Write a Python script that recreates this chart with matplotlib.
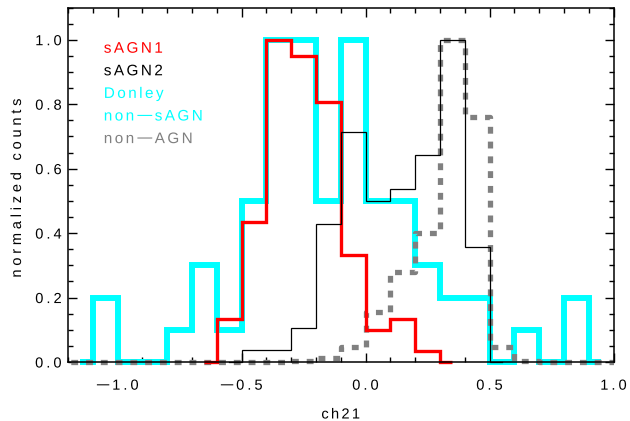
import numpy as np
import matplotlib
matplotlib.use("Agg")
import matplotlib.pyplot as plt
from matplotlib.patches import Rectangle
from matplotlib.ticker import MultipleLocator
from matplotlib.patheffects import AbstractPathEffect
from matplotlib.path import Path

plt.rcParams['font.family'] = ['Liberation Sans', 'DejaVu Sans']

# ---- data (bin centres, normalized counts) ----
sagn1_x = [-0.65, -0.55, -0.45, -0.35, -0.25, -0.15, -0.05, 0.05, 0.15, 0.25, 0.35]
sagn1_y = [0.0, 0.133, 0.433, 1.0, 0.95, 0.807, 0.333, 0.10, 0.133, 0.033, 0.0]

sagn2_x = [-0.55, -0.45, -0.35, -0.25, -0.15, -0.05, 0.05, 0.15, 0.25, 0.35, 0.45, 0.55]
sagn2_y = [0.0, 0.036, 0.036, 0.107, 0.429, 0.714, 0.50, 0.536, 0.643, 1.0, 0.357, 0.0]

donley_x = [-1.15, -1.05, -0.95, -0.85, -0.75, -0.65, -0.55, -0.45, -0.35, -0.25, -0.15,
            -0.05, 0.05, 0.15, 0.25, 0.35, 0.45, 0.55, 0.65, 0.75, 0.85, 0.95]
donley_y = [0.0, 0.2, 0.0, 0.0, 0.1, 0.3, 0.1, 0.5, 1.0, 1.0, 0.5,
            1.0, 0.5, 0.5, 0.3, 0.2, 0.2, 0.0, 0.1, 0.0, 0.2, 0.0]

nonagn_x = [-1.25, -1.15, -1.05, -0.95, -0.85, -0.75, -0.65, -0.55, -0.45, -0.35, -0.25, -0.15,
            -0.05, 0.05, 0.15, 0.25, 0.35, 0.45, 0.55, 0.65, 0.75, 0.85, 0.95, 1.05]
nonagn_y = [0.0, 0.0, 0.0, 0.0, 0.0, 0.0, 0.0, 0.0, 0.0, 0.0, 0.004, 0.011,
            0.048, 0.156, 0.28, 0.40, 1.0, 0.76, 0.048, 0.004, 0.0, 0.0, 0.0, 0.0]

legend_labels = ['sAGN1', 'sAGN2', 'Donley', 'non\u2212sAGN', 'non\u2212AGN']
legend_colors = ['#ff0000', '#000000', '#00ffff', '#00ffff', '#808080']

xticks = [-1.0, -0.5, 0.0, 0.5, 1.0]
xticklabels = ['\u22121.0', '\u22120.5', '0.0', '0.5', '1.0']
yticks = [0.0, 0.2, 0.4, 0.6, 0.8, 1.0]
yticklabels = ['0.0', '0.2', '0.4', '0.6', '0.8', '1.0']


class Tracked(AbstractPathEffect):
    """Draw a Text with extra letter spacing (IDL-like wide spacing)."""

    def __init__(self, text_obj, track_em, align='left', minus_scale=1.0, minus_pad_em=0.0):
        super().__init__()
        self.t = text_obj
        self.track = track_em
        self.align = align
        self.ms = minus_scale
        self.mp = minus_pad_em

    def draw_path(self, renderer, gc, tpath, affine, rgbFace=None):
        s = self.t.get_text()
        try:
            t2p = renderer._text2path
            font = t2p._get_font(self.t.get_fontproperties())
            glyph_info, glyph_map, rects = t2p.get_glyphs_with_font(font, s)
            FS = t2p.FONT_SCALE
            if len(glyph_info) != len(s):
                raise ValueError
        except Exception:
            renderer.draw_path(gc, tpath, affine, rgbFace)
            return
        verts, codes = [], []
        shift = 0.0
        for i, (gid, xp, yp, sc) in enumerate(glyph_info):
            v1, c1 = glyph_map[gid]
            v = np.asarray(v1, float).reshape(-1, 2) * sc
            ch = s[i]
            if ch == '\u2212':
                shift += self.mp * FS
                if len(v):
                    cx = 0.5 * (v[:, 0].min() + v[:, 0].max())
                    v[:, 0] = cx + (v[:, 0] - cx) * self.ms
            v = v + [xp + i * self.track * FS + shift, yp]
            if ch == '\u2212':
                shift += self.mp * FS
            verts.append(v)
            codes.append(np.asarray(c1))
        total = (len(s) - 1) * self.track * FS + shift
        off = {'left': 0.0, 'center': -0.5 * total, 'right': -total}[self.align]
        if not verts:
            return
        V = np.concatenate(verts) + [off, 0.0]
        C = np.concatenate(codes).astype(np.uint8)
        if len(V) == 0:
            return
        renderer.draw_path(gc, Path(V, C), affine, rgbFace)


def track(t, em, align, ms=1.0, mp=0.0):
    t.set_path_effects([Tracked(t, em, align, ms, mp)])


fig = plt.figure(figsize=(6.30, 4.21), dpi=100)
ax = fig.add_axes([68/630, 1-362/421, (613.5-68)/630, (362-7.5)/421])
ax.set_xlim(-1.2, 1.0)
ax.set_ylim(0.0, 1.1)

clip = Rectangle((0, -0.1), 1, 1.2, transform=ax.transAxes, facecolor='none', edgecolor='none')
ax.add_patch(clip)

lines = []
l, = ax.step(donley_x, donley_y, where='mid', color='#00ffff', lw=4.3,
             solid_joinstyle='miter', solid_capstyle='butt')
lines.append(l)
l, = ax.step(nonagn_x, nonagn_y, where='mid', color='#808080', lw=3.8,
             linestyle=(0, (1.3, 1.5)), dash_capstyle='butt')
lines.append(l)
l, = ax.step(sagn1_x, sagn1_y, where='mid', color='#ff0000', lw=2.4,
             solid_joinstyle='miter', solid_capstyle='butt')
lines.append(l)
l, = ax.step(sagn2_x, sagn2_y, where='mid', color='#000000', lw=0.9,
             solid_joinstyle='miter')
lines.append(l)
for l in lines:
    l.set_clip_path(clip)

# legend as coloured text
legend_baselines = [52.7, 75.3, 97.9, 120.5, 143.1]
for lab, c, yb in zip(legend_labels, legend_colors, legend_baselines):
    t = fig.text(103.8/630, 1 - yb/421, lab, color=c, fontsize=11,
                 ha='left', va='baseline')
    track(t, 0.16, 'left', 2.0, 0.22)

ax.set_xticks(xticks)
ax.set_xticklabels(xticklabels)
ax.set_yticks(yticks)
ax.set_yticklabels(yticklabels)
ax.xaxis.set_minor_locator(MultipleLocator(0.1))
ax.yaxis.set_minor_locator(MultipleLocator(0.05))
ax.tick_params(which='both', direction='in', top=True, right=True, labelsize=10.5, width=1.0)
ax.tick_params(which='major', length=6.5)
ax.tick_params(which='minor', length=3.5)
ax.tick_params(axis='x', which='major', pad=12)
ax.tick_params(axis='y', which='major', pad=4.5)
for s in ax.spines.values():
    s.set_linewidth(1.1)

for t in ax.get_xticklabels():
    track(t, 0.21, 'center', 1.75, 0.14)
for t in ax.get_yticklabels():
    track(t, 0.21, 'right', 1.75, 0.14)

xl = ax.set_xlabel('ch21', fontsize=10.5)
ax.xaxis.set_label_coords(0.5, (362 - 407.5) / 354.5)
track(xl, 0.16, 'center')
yl = ax.set_ylabel('normalized counts', fontsize=10.5)
ax.yaxis.set_label_coords((24 - 68) / 545.5, (362 - 187.5) / 354.5)
track(yl, 0.26, 'center')

fig.savefig('out.png', dpi=100)
